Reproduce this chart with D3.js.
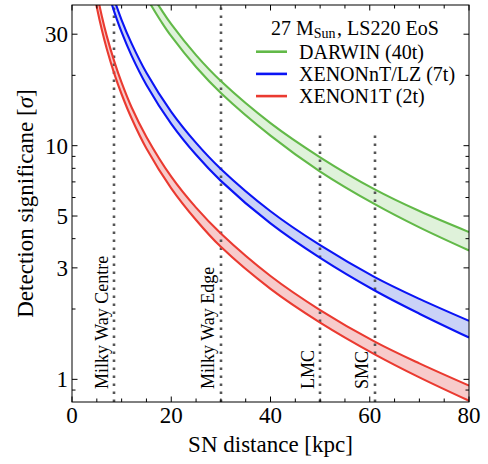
<!DOCTYPE html>
<html>
<head>
<meta charset="utf-8">
<script src="https://cdn.jsdelivr.net/npm/d3@7"></script>
<style>
  body { margin: 0; background: #fff; }
  text { font-family: "Liberation Serif", "Times New Roman", serif; fill: #000; }
</style>
</head>
<body>
<svg id="chart" width="488" height="464"></svg>
<script>
// SN distance samples [kpc] and detection significance [sigma]
const distGreen = [15, 16, 18, 20, 25, 30, 40, 50, 61, 70, 80]
const greenHigh = [48.6, 44.6, 38.2, 33.1, 24.4, 18.9, 12.49, 8.92, 6.5, 5.25, 4.27]
const greenLow  = [43.2, 39.7, 33.9, 29.4, 21.7, 16.8, 11.04, 7.75, 5.62, 4.47, 3.56]

const distBlue = [7.5, 8, 8.5, 10, 12, 15, 20, 25, 30, 40, 50, 61, 70, 80]
const blueHigh = [49.4, 45.6, 42.3, 34.5, 27.4, 20.5, 13.96, 10.28, 7.95, 5.24, 3.75, 2.74, 2.21, 1.78]
const blueLow  = [43.9, 40.5, 37.5, 30.6, 24.3, 18.2, 12.41, 9.14, 7.07, 4.65, 3.31, 2.40, 1.91, 1.51]

const distRed = [4.5, 5, 6, 7, 8.5, 10, 12, 15, 20, 25, 30, 40, 50, 61, 70, 80]
const redHigh = [51.6, 45.2, 35.9, 29.5, 23.0, 18.6, 14.6, 10.9, 7.37, 5.43, 4.21, 2.77, 1.98, 1.45, 1.17, 0.94]
const redLow  = [44.4, 39.1, 31.4, 26.0, 20.4, 16.6, 13.1, 9.72, 6.57, 4.81, 3.69, 2.44, 1.75, 1.28, 1.02, 0.81]

const seriesNames = ["DARWIN (40t)", "XENONnT/LZ (7t)", "XENON1T (2t)"]

// reference distances
const markerDist  = [8.5, 30, 50, 61]
const markerNames = ["Milky Way Centre", "Milky Way Edge", "LMC", "SMC"]
const markerTop   = [40, 40, 11.5, 11.5]

// ticks
const xMajor = [0, 20, 40, 60, 80]
const xMinor = [5, 10, 15, 25, 30, 35, 45, 50, 55, 65, 70, 75]
const yMajor = [1, 3, 5, 10, 30]
const yMinor = [0.9, 2, 4, 6, 7, 8, 9, 20]

const W = 488, H = 464
const margin = {left: 72, right: 19, top: 5, bottom: 62}

const svg = d3.select("#chart")

const x = d3.scaleLinear().domain([0, 80]).range([margin.left, W - margin.right])
const y = d3.scaleLog().domain([0.8, 40]).range([H - margin.bottom, margin.top])

const x0 = x.range()[0], x1 = x.range()[1]
const yB = y.range()[0], yT = y.range()[1]

svg.append("defs").append("clipPath").attr("id", "plotClip")
  .append("rect")
  .attr("x", x0).attr("y", yT)
  .attr("width", x1 - x0).attr("height", yB - yT)

const series = [
  {name: seriesNames[0], dist: distGreen, hi: greenHigh, lo: greenLow, line: "#62b948", fill: "#dff2da"},
  {name: seriesNames[1], dist: distBlue,  hi: blueHigh,  lo: blueLow,  line: "#0a14f5", fill: "#cad2f7"},
  {name: seriesNames[2], dist: distRed,   hi: redHigh,   lo: redLow,   line: "#ea3a30", fill: "#f7cbcb"}
]

const fills = svg.append("g").attr("clip-path", "url(#plotClip)")
const dots  = svg.append("g").attr("clip-path", "url(#plotClip)")
const lines = svg.append("g").attr("clip-path", "url(#plotClip)")

const curve = d3.curveCatmullRom.alpha(0.5)

const area = d3.area()
  .x(d => x(d[0]))
  .y0(d => y(d[2]))
  .y1(d => y(d[1]))
  .curve(curve)

const lineHi = d3.line().x(d => x(d[0])).y(d => y(d[1])).curve(curve)
const lineLo = d3.line().x(d => x(d[0])).y(d => y(d[2])).curve(curve)

series.forEach(s => {
  let pts = s.dist.map((d, i) => [d, s.hi[i], s.lo[i]])
  fills.append("path").attr("d", area(pts)).attr("fill", s.fill)
  lines.append("path").attr("d", lineHi(pts))
    .attr("fill", "none").attr("stroke", s.line).attr("stroke-width", 2.1)
  lines.append("path").attr("d", lineLo(pts))
    .attr("fill", "none").attr("stroke", s.line).attr("stroke-width", 2.1)
})

// dotted reference lines, drawn under the curve edges
markerDist.forEach((d, i) => {
  let px = Math.round(x(d))
  dots.append("line")
    .attr("x1", px).attr("x2", px)
    .attr("y1", yB).attr("y2", y(markerTop[i]))
    .attr("stroke", "#555")
    .attr("stroke-width", 2.6)
    .attr("stroke-dasharray", "2.6,5.4")

  svg.append("text")
    .attr("transform", "translate(" + (x(d) - 6.5) + "," + (yB - 13) + ") rotate(-90)")
    .style("font-size", "18px")
    .text(markerNames[i])
})

// frame
svg.append("rect")
  .attr("x", x0).attr("y", yT)
  .attr("width", x1 - x0).attr("height", yB - yT)
  .attr("fill", "none").attr("stroke", "#000").attr("stroke-width", 1)

// inward ticks on all four sides
const ticks = svg.append("g").attr("stroke", "#000").attr("stroke-width", 1)
function xTick(v, len) {
  ticks.append("line").attr("x1", x(v)).attr("x2", x(v)).attr("y1", yB).attr("y2", yB - len)
  ticks.append("line").attr("x1", x(v)).attr("x2", x(v)).attr("y1", yT).attr("y2", yT + len)
}
function yTick(v, len) {
  ticks.append("line").attr("x1", x0).attr("x2", x0 + len).attr("y1", y(v)).attr("y2", y(v))
  ticks.append("line").attr("x1", x1).attr("x2", x1 - len).attr("y1", y(v)).attr("y2", y(v))
}
xMajor.forEach(v => xTick(v, 5.5))
xMinor.forEach(v => xTick(v, 3.5))
yMajor.forEach(v => yTick(v, 5.5))
yMinor.forEach(v => yTick(v, 3.5))

// tick labels
svg.selectAll(".xlab").data(xMajor).enter().append("text")
  .attr("x", d => x(d)).attr("y", yB + 21)
  .style("font-size", "23px").style("text-anchor", "middle")
  .text(d => d)

svg.selectAll(".ylab").data(yMajor).enter().append("text")
  .attr("x", x0 - 4).attr("y", d => y(d)).attr("dy", "0.34em")
  .style("font-size", "23px").style("text-anchor", "end")
  .text(d => d)

// axis titles
svg.append("text")
  .attr("x", (x0 + x1) / 2).attr("y", 452)
  .style("font-size", "23px").style("text-anchor", "middle")
  .text("SN distance [kpc]")

let yTitle = svg.append("text")
  .attr("transform", "translate(33," + ((yT + yB) / 2) + ") rotate(-90)")
  .style("font-size", "23px").style("text-anchor", "middle")
yTitle.append("tspan").text("Detection significane [")
yTitle.append("tspan").style("font-style", "italic").text("σ")
yTitle.append("tspan").text("]")

// legend
let legend = svg.append("g")
let title = legend.append("text").attr("x", 271).attr("y", 35).style("font-size", "20px")
title.append("tspan").text("27 M")
title.append("tspan").attr("dy", 3).style("font-size", "14px").text("Sun")
title.append("tspan").attr("dy", -3).attr("dx", 1.5).text(", LS220 EoS")

series.forEach((s, i) => {
  let ly = 51.7 + i * 22.2
  legend.append("line")
    .attr("x1", 256).attr("x2", 287).attr("y1", ly).attr("y2", ly)
    .attr("stroke", s.line).attr("stroke-width", 2.6)
  legend.append("text")
    .attr("x", 299).attr("y", ly + 6.8)
    .style("font-size", "20px")
    .text(s.name)
})
</script>
</body>
</html>
